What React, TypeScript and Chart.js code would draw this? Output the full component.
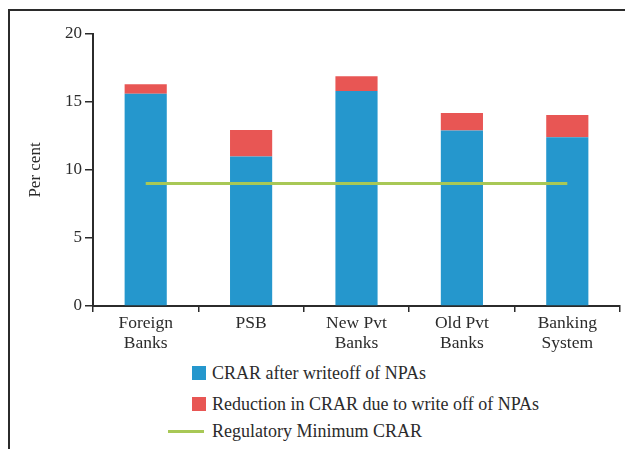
import React, { useEffect, useRef } from "react";
import { Chart, registerables } from "chart.js";

Chart.register(...registerables);

// Bank groups and their capital ratios (per cent)
const categories: string[][] = [
  ["Foreign", "Banks"],
  ["PSB"],
  ["New Pvt", "Banks"],
  ["Old Pvt", "Banks"],
  ["Banking", "System"],
];
const crarAfterWriteoff: number[] = [15.6, 11.0, 15.8, 12.9, 12.4];
const reductionInCrar: number[] = [0.7, 1.95, 1.1, 1.3, 1.65];
const regulatoryMinimum: number[] = [9, 9, 9, 9, 9];
const yTicks: number[] = [0, 5, 10, 15, 20];

const seriesNames = [
  "CRAR after writeoff of NPAs",
  "Reduction in CRAR due to write off of NPAs",
  "Regulatory Minimum CRAR",
];
const BLUE = "#2597cd";
const RED = "#e85654";
const GREEN = "#a8c856";
const INK = "#2b2b2b";
const FONT = "'Liberation Serif', 'DejaVu Serif', serif";

export default function App() {
  const canvasRef = useRef<HTMLCanvasElement | null>(null);

  useEffect(() => {
    if (!canvasRef.current) return;
    const chart = new Chart(canvasRef.current, {
      type: "bar",
      data: {
        labels: categories,
        datasets: [
          {
            type: "line",
            label: seriesNames[2],
            data: regulatoryMinimum,
            borderColor: GREEN,
            borderWidth: 3,
            pointRadius: 0,
            stack: "minimum",
            order: 0,
          } as any,
          {
            type: "bar",
            label: seriesNames[0],
            data: crarAfterWriteoff,
            backgroundColor: BLUE,
            stack: "crar",
            order: 1,
            barPercentage: 0.4,
            categoryPercentage: 1,
          },
          {
            type: "bar",
            label: seriesNames[1],
            data: reductionInCrar,
            backgroundColor: RED,
            stack: "crar",
            order: 1,
            barPercentage: 0.4,
            categoryPercentage: 1,
          },
        ],
      },
      options: {
        animation: false,
        responsive: false,
        maintainAspectRatio: false,
        layout: { padding: { top: 23, right: 5, left: 0, bottom: 0 } },
        plugins: {
          legend: { display: false },
          tooltip: { enabled: false },
          title: { display: false },
        },
        scales: {
          x: {
            stacked: true,
            offset: true,
            afterFit: (scale: any) => {
              scale.height = 50;
            },
            border: { display: true, color: INK, width: 2 },
            grid: {
              offset: true,
              drawOnChartArea: false,
              drawTicks: true,
              tickLength: 6,
              color: INK,
              lineWidth: 1.5,
            },
            ticks: {
              color: INK,
              padding: 1,
              maxRotation: 0,
              autoSkip: false,
              font: { family: FONT, size: 17.5, lineHeight: 1.15 },
            },
          },
          y: {
            stacked: true,
            min: 0,
            max: 20,
            afterFit: (scale: any) => {
              scale.width = 83;
            },
            afterBuildTicks: (scale: any) => {
              scale.ticks = yTicks.map((v) => ({ value: v }));
            },
            border: { display: true, color: INK, width: 2 },
            grid: {
              drawOnChartArea: false,
              drawTicks: true,
              tickLength: 8,
              color: INK,
              lineWidth: 1.5,
            },
            ticks: {
              color: INK,
              padding: 3,
              font: { family: FONT, size: 17 },
            },
            title: {
              display: true,
              text: "Per cent",
              color: INK,
              padding: { top: 15, bottom: 0 },
              font: { family: FONT, size: 17 },
            },
          },
        },
      },
    });
    return () => chart.destroy();
  }, []);

  const legendText: React.CSSProperties = {
    position: "absolute",
    left: 212,
    fontFamily: FONT,
    fontSize: 18,
    color: INK,
    lineHeight: "20px",
    whiteSpace: "nowrap",
  };

  return (
    <div>
      {/* frame lines on the left and top */}
      <div
        style={{
          position: "absolute",
          left: 8,
          top: 9,
          width: 617,
          height: 440,
          borderLeft: `2px solid ${INK}`,
          borderTop: `2px solid ${INK}`,
          boxSizing: "border-box",
        }}
      />
      <canvas
        ref={canvasRef}
        width={615}
        height={345}
        style={{ position: "absolute", left: 10, top: 11, width: 615, height: 345 }}
      />
      {/* legend */}
      <div style={{ position: "absolute", left: 192, top: 366, width: 14, height: 14, background: BLUE }} />
      <div style={{ ...legendText, top: 363 }}>{seriesNames[0]}</div>
      <div style={{ position: "absolute", left: 192, top: 397, width: 14, height: 14, background: RED }} />
      <div style={{ ...legendText, top: 394 }}>{seriesNames[1]}</div>
      <div style={{ position: "absolute", left: 168, top: 430, width: 36, height: 3, background: GREEN }} />
      <div style={{ ...legendText, top: 421 }}>{seriesNames[2]}</div>
    </div>
  );
}
